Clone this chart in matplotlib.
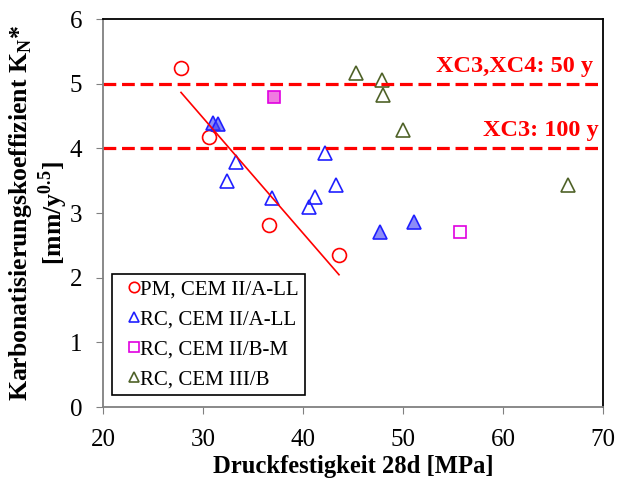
import numpy as np
import matplotlib
matplotlib.use("Agg")
import matplotlib.pyplot as plt

plt.rcParams['font.family'] = ['Liberation Serif', 'DejaVu Serif']
plt.rcParams['mathtext.fontset'] = 'custom'
plt.rcParams['mathtext.rm'] = 'Liberation Serif'
plt.rcParams['mathtext.bf'] = 'Liberation Serif:bold'

# PM, CEM II/A-LL
pm_x = [27.8, 30.6, 36.6, 43.6]
pm_y = [5.24, 4.17, 2.81, 2.35]

# RC, CEM II/A-LL (open and filled)
rc_a_x = [33.3, 32.4, 36.9, 42.2, 41.2, 40.6, 43.3]
rc_a_y = [3.79, 3.50, 3.23, 3.93, 3.25, 3.09, 3.43]
rc_a_fill_x = [31.0, 31.5, 47.7, 51.1]
rc_a_fill_y = [4.39, 4.38, 2.71, 2.86]

# RC, CEM II/B-M
rc_bm_x = [55.7]
rc_bm_y = [2.71]
rc_bm_fill_x = [37.1]
rc_bm_fill_y = [4.79]

# RC, CEM III/B
rc_b_x = [45.3, 47.9, 48.0, 50.0, 66.5]
rc_b_y = [5.17, 5.06, 4.83, 4.29, 3.44]

limits = [5.0, 4.0]
limit_labels = ['XC3,XC4: 50 y', 'XC3: 100 y']

red = '#FF0000'
blue = '#2020FF'
magenta = '#E000E0'
olive = '#4F6228'

fig = plt.figure(figsize=(6.19, 4.84), dpi=100)
ax = fig.add_axes([103 / 619, 1 - 407 / 484, 500 / 619, 388 / 484])

ms = 10
ax.plot(pm_x, pm_y, 'o', ms=ms, mfc='none', mec=red, mew=1.2, label='PM, CEM II/A-LL')
ax.plot(rc_a_x, rc_a_y, '^', ms=ms, mfc='none', mec=blue, mew=1.2, label='RC, CEM II/A-LL')
ax.plot(rc_bm_x, rc_bm_y, 's', ms=ms - 1, mfc='none', mec=magenta, mew=1.2, label='RC, CEM II/B-M')
ax.plot(rc_b_x, rc_b_y, '^', ms=ms, mfc='none', mec=olive, mew=1.2, label='RC, CEM III/B')
ax.plot(rc_a_fill_x, rc_a_fill_y, '^', ms=ms, mfc=(0.25, 0.25, 0.95, 0.6), mec=blue, mew=1.2)
ax.plot(rc_bm_fill_x, rc_bm_fill_y, 's', ms=ms - 1, mfc=(0.93, 0.35, 0.85, 0.8), mec=magenta, mew=1.2)

# linear trend for PM
k, d = np.polyfit(pm_x, pm_y, 1)
xs = np.array([min(pm_x), max(pm_x)])
ax.plot(xs, k * xs + d, color=red, lw=1.2)

# exposure class limits
for val, txt, xr in zip(limits, limit_labels, [69.0, 69.6]):
    ax.axhline(val, color=red, lw=2.3, dashes=(4, 1.8))
    ax.text(xr, val + 0.11, txt, color=red, fontsize=17.5, fontweight='bold',
            ha='right', va='bottom')

ax.set_xlim(20, 70)
ax.set_ylim(0, 6)
ax.set_xticks(range(20, 71, 10))
ax.set_yticks(range(0, 7))
ax.tick_params(labelsize=18, direction='out', length=5, color='#808080')
ax.tick_params(axis='y', pad=10)
ax.tick_params(axis='x', pad=11)
for side in ['left', 'bottom']:
    ax.spines[side].set_color('#808080')
for side in ['top', 'right']:
    ax.spines[side].set_color('black')
for s in ax.spines.values():
    s.set_linewidth(1.3)

ax.set_xlabel('Druckfestigkeit 28d [MPa]', fontsize=17.7, fontweight='bold', labelpad=3)
ax.set_ylabel('Karbonatisierungskoeffizient K$_\\mathregular{N}$*\n[mm/y$^\\mathregular{0.5}$]',
              fontsize=18.5, fontweight='bold', labelpad=0, linespacing=1.08)

leg = ax.legend(loc='lower left', bbox_to_anchor=(0.018, 0.03), fontsize=15,
                frameon=True, fancybox=False, edgecolor='black', framealpha=1,
                markerscale=0.75, handletextpad=-0.45, handlelength=1.5,
                borderpad=0.3, labelspacing=0.49, borderaxespad=0)
leg.get_frame().set_linewidth(1.2)

fig.savefig('out.png', dpi=100)
